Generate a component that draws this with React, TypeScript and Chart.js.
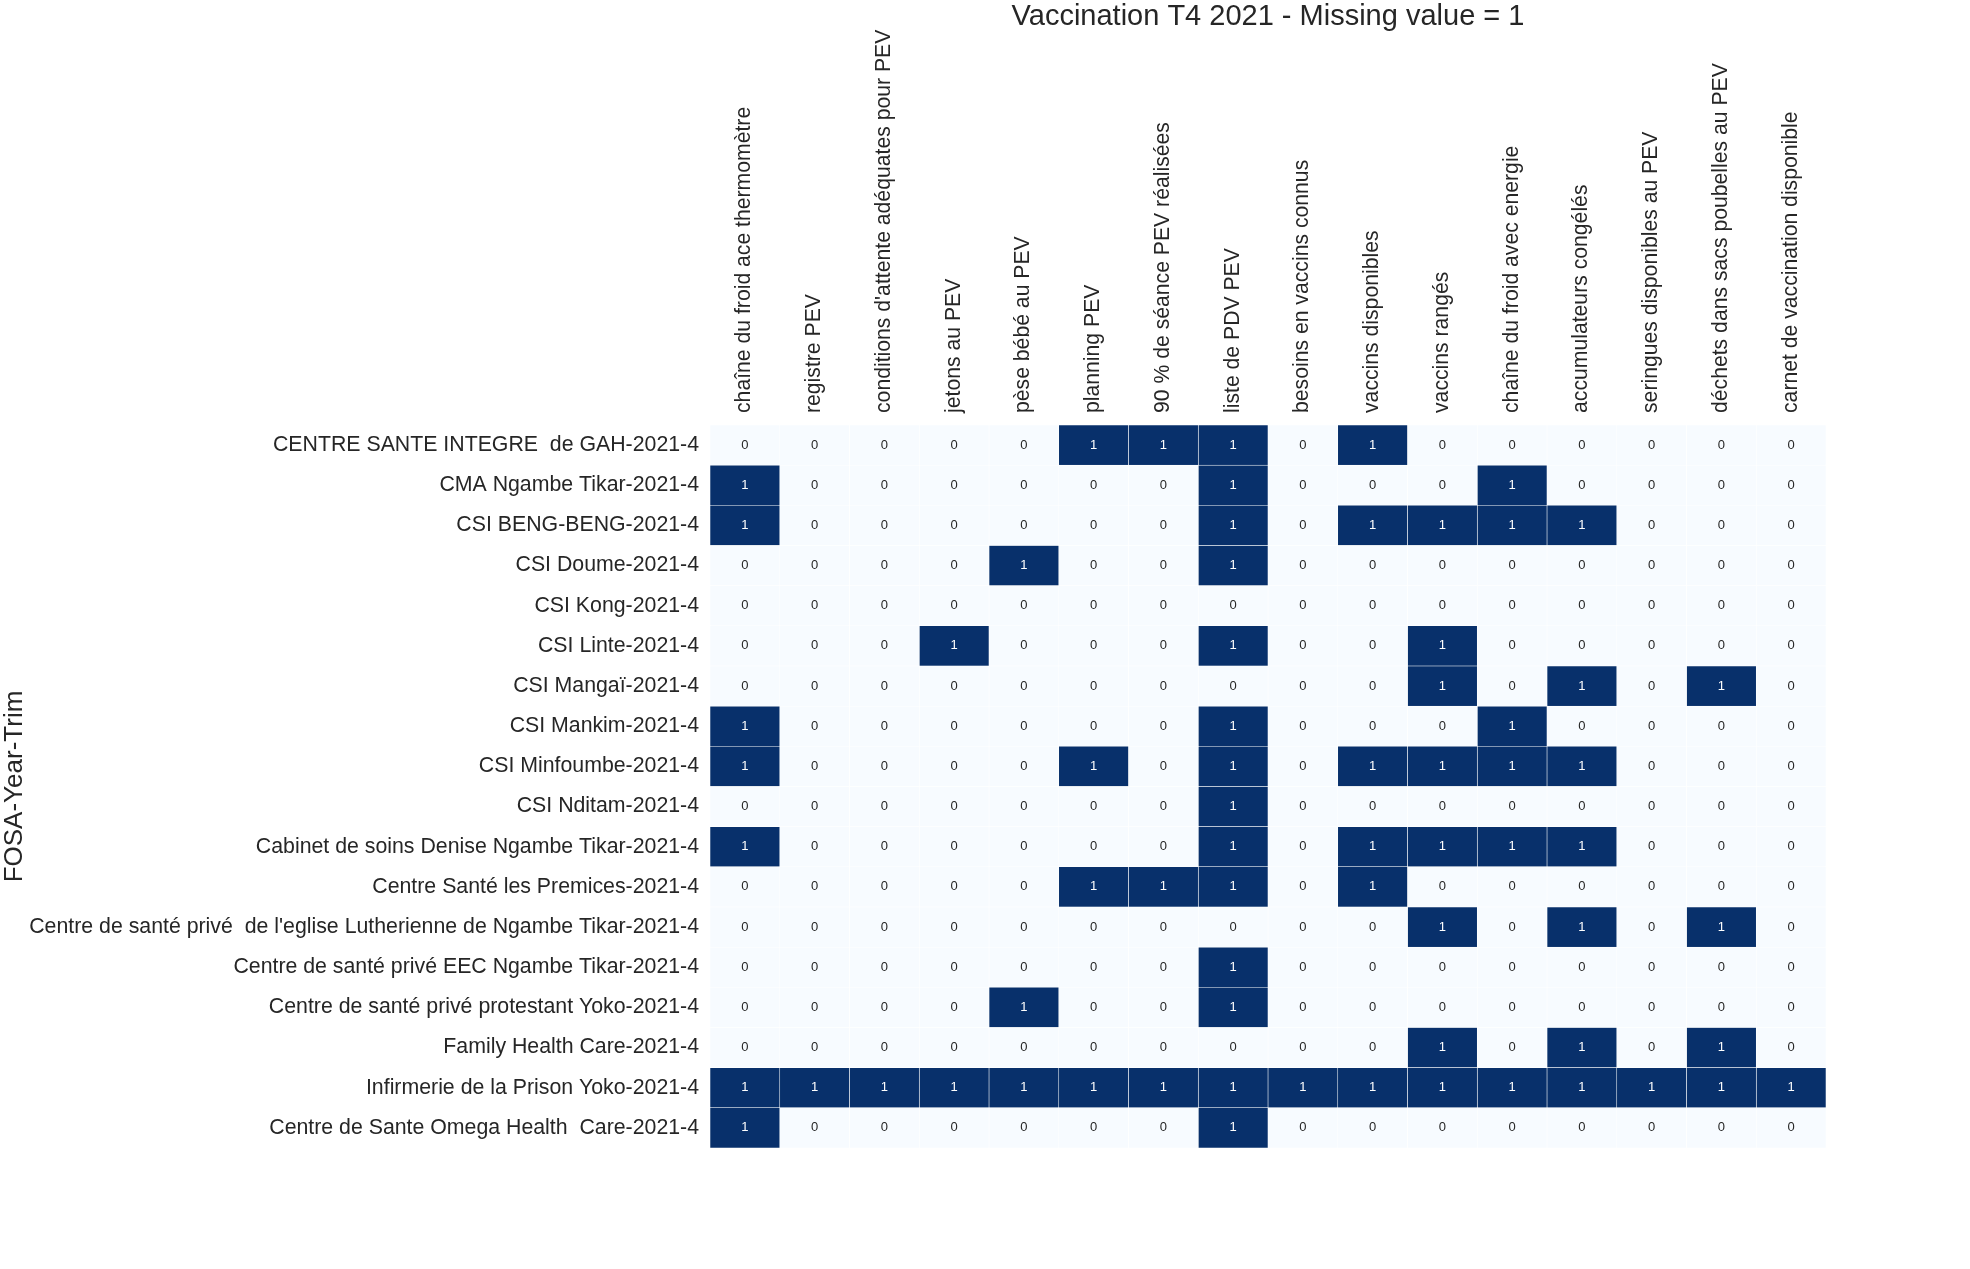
import React, { useEffect, useRef } from "react";
import { Chart, registerables } from "chart.js";

Chart.register(...registerables);

const TITLE = "Vaccination T4 2021 - Missing value = 1";
const Y_TITLE = "FOSA-Year-Trim";

const columns = [
  "chaîne du froid ace thermomètre",
  "registre PEV",
  "conditions d'attente adéquates pour PEV",
  "jetons au PEV",
  "pèse bébé au PEV",
  "planning PEV",
  "90 % de séance PEV réalisées",
  "liste de PDV PEV",
  "besoins en vaccins connus",
  "vaccins disponibles",
  "vaccins rangés",
  "chaîne du froid avec energie",
  "accumulateurs congélés",
  "seringues disponibles au PEV",
  "déchets dans sacs poubelles au PEV",
  "carnet de vaccination disponible",
];

const rows = [
  "CENTRE SANTE INTEGRE  de GAH-2021-4",
  "CMA Ngambe Tikar-2021-4",
  "CSI BENG-BENG-2021-4",
  "CSI Doume-2021-4",
  "CSI Kong-2021-4",
  "CSI Linte-2021-4",
  "CSI Mangaï-2021-4",
  "CSI Mankim-2021-4",
  "CSI Minfoumbe-2021-4",
  "CSI Nditam-2021-4",
  "Cabinet de soins Denise Ngambe Tikar-2021-4",
  "Centre Santé les Premices-2021-4",
  "Centre de santé privé  de l'eglise Lutherienne de Ngambe Tikar-2021-4",
  "Centre de santé privé EEC Ngambe Tikar-2021-4",
  "Centre de santé privé protestant Yoko-2021-4",
  "Family Health Care-2021-4",
  "Infirmerie de la Prison Yoko-2021-4",
  "Centre de Sante Omega Health  Care-2021-4",
];

const gah = [0, 0, 0, 0, 0, 1, 1, 1, 0, 1, 0, 0, 0, 0, 0, 0];
const cmaNgambe = [1, 0, 0, 0, 0, 0, 0, 1, 0, 0, 0, 1, 0, 0, 0, 0];
const bengBeng = [1, 0, 0, 0, 0, 0, 0, 1, 0, 1, 1, 1, 1, 0, 0, 0];
const doume = [0, 0, 0, 0, 1, 0, 0, 1, 0, 0, 0, 0, 0, 0, 0, 0];
const kong = [0, 0, 0, 0, 0, 0, 0, 0, 0, 0, 0, 0, 0, 0, 0, 0];
const linte = [0, 0, 0, 1, 0, 0, 0, 1, 0, 0, 1, 0, 0, 0, 0, 0];
const mangai = [0, 0, 0, 0, 0, 0, 0, 0, 0, 0, 1, 0, 1, 0, 1, 0];
const mankim = [1, 0, 0, 0, 0, 0, 0, 1, 0, 0, 0, 1, 0, 0, 0, 0];
const minfoumbe = [1, 0, 0, 0, 0, 1, 0, 1, 0, 1, 1, 1, 1, 0, 0, 0];
const nditam = [0, 0, 0, 0, 0, 0, 0, 1, 0, 0, 0, 0, 0, 0, 0, 0];
const denise = [1, 0, 0, 0, 0, 0, 0, 1, 0, 1, 1, 1, 1, 0, 0, 0];
const premices = [0, 0, 0, 0, 0, 1, 1, 1, 0, 1, 0, 0, 0, 0, 0, 0];
const lutherienne = [0, 0, 0, 0, 0, 0, 0, 0, 0, 0, 1, 0, 1, 0, 1, 0];
const eec = [0, 0, 0, 0, 0, 0, 0, 1, 0, 0, 0, 0, 0, 0, 0, 0];
const protestantYoko = [0, 0, 0, 0, 1, 0, 0, 1, 0, 0, 0, 0, 0, 0, 0, 0];
const familyHealth = [0, 0, 0, 0, 0, 0, 0, 0, 0, 0, 1, 0, 1, 0, 1, 0];
const prisonYoko = [1, 1, 1, 1, 1, 1, 1, 1, 1, 1, 1, 1, 1, 1, 1, 1];
const omega = [1, 0, 0, 0, 0, 0, 0, 1, 0, 0, 0, 0, 0, 0, 0, 0];

const values: number[][] = [
  gah, cmaNgambe, bengBeng, doume, kong, linte, mangai, mankim, minfoumbe,
  nditam, denise, premices, lutherienne, eec, protestantYoko, familyHealth,
  prisonYoko, omega,
];

const DARK = "#08306b";
const LIGHT = "#f7fbff";
const TEXT = "#262626";
const FAMILY = '"Liberation Sans", Arial, Helvetica, sans-serif';

const cellTextPlugin = {
  id: "cellText",
  afterDatasetsDraw(chart: any) {
    const { ctx, scales } = chart;
    const xs = scales.x;
    const ys = scales.y;
    ctx.save();
    ctx.font = `13px ${FAMILY}`;
    ctx.textAlign = "center";
    ctx.textBaseline = "middle";
    rows.forEach((_, i) => {
      columns.forEach((__, j) => {
        const v = values[i][j];
        ctx.fillStyle = v === 1 ? "#ffffff" : TEXT;
        ctx.fillText(String(v), xs.getPixelForValue(j + 0.5), ys.getPixelForValue(i));
      });
    });
    ctx.restore();
  },
};

const titlePlugin = {
  id: "topTitle",
  afterDraw(chart: any) {
    const { ctx, chartArea } = chart;
    ctx.save();
    ctx.font = `29px ${FAMILY}`;
    ctx.fillStyle = TEXT;
    ctx.textAlign = "center";
    ctx.textBaseline = "alphabetic";
    ctx.fillText(TITLE, (chartArea.left + chartArea.right) / 2, 25);
    ctx.restore();
  },
};

export default function App() {
  const canvasRef = useRef<HTMLCanvasElement | null>(null);

  useEffect(() => {
    const canvas = canvasRef.current;
    if (!canvas) return;
    const datasets = columns.map((col, j) => ({
      label: col,
      data: rows.map(() => [j, j + 1]),
      backgroundColor: rows.map((_, i) => (values[i][j] === 1 ? DARK : LIGHT)),
      borderColor: "rgba(255,255,255,0.75)",
      borderWidth: 0.6,
      borderSkipped: false,
      grouped: false,
      barPercentage: 1,
      categoryPercentage: 1,
    }));

    const chart = new Chart(canvas, {
      type: "bar",
      data: { labels: rows, datasets: datasets as any },
      options: {
        responsive: false,
        animation: false,
        indexAxis: "y",
        layout: { padding: { left: 0, right: 144, top: 0, bottom: 121 } },
        plugins: {
          legend: { display: false },
          tooltip: { enabled: false },
          title: { display: false },
        },
        scales: {
          x: {
            type: "linear",
            position: "top",
            min: 0,
            max: 16,
            grid: { display: false, drawTicks: false },
            border: { display: false },
            afterBuildTicks: (s: any) => {
              s.ticks = columns.map((_, j) => ({ value: j + 0.5 }));
            },
            afterFit: (s: any) => {
              s.height = 425;
            },
            ticks: {
              autoSkip: false,
              minRotation: 90,
              maxRotation: 90,
              padding: 12,
              labelOffset: 25,
              color: TEXT,
              font: { size: 21.2, family: FAMILY },
              callback: (_v: any, idx: number) => columns[idx],
            },
          },
          y: {
            type: "category",
            position: "left",
            grid: { display: false, drawTicks: false },
            border: { display: false },
            afterFit: (s: any) => {
              s.width = 710;
            },
            ticks: {
              autoSkip: false,
              padding: 11,
              color: TEXT,
              font: { size: 21.3, family: FAMILY },
            },
            title: {
              display: true,
              text: Y_TITLE,
              color: TEXT,
              padding: { top: 2, bottom: 0 },
              font: { size: 26, family: FAMILY, lineHeight: 1.0 },
            },
          },
        },
      } as any,
      plugins: [cellTextPlugin, titlePlugin],
    });
    return () => chart.destroy();
  }, []);

  return (
    <div style={{ position: "absolute", left: 0, top: 0, width: 1970, height: 1269, background: "#ffffff" }}>
      <canvas ref={canvasRef} width={1970} height={1269} style={{ display: "block" }} />
    </div>
  );
}
